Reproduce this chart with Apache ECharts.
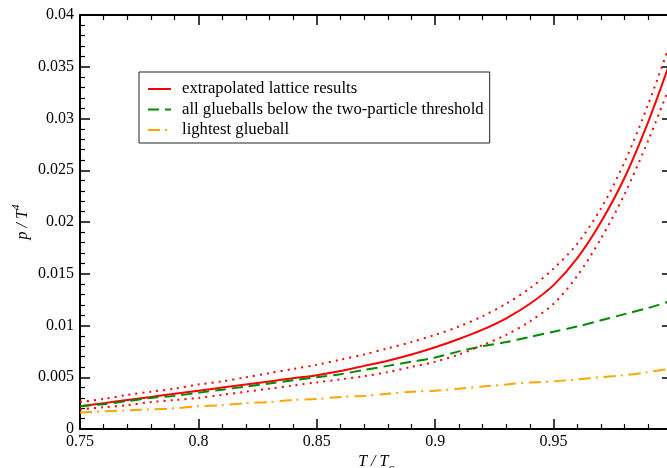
<!DOCTYPE html>
<html>
<head>
<meta charset="utf-8">
<script src="https://cdn.jsdelivr.net/npm/echarts@6/dist/echarts.min.js"></script>
<style>html,body{margin:0;padding:0;background:#fff}#c{width:667px;height:468px}</style>
</head>
<body>
<div id="c"></div>
<script>
var tValues = [0.75,0.76,0.77,0.78,0.79,0.80,0.81,0.82,0.83,0.84,0.85,0.86,0.87,0.88,0.89,0.90,0.91,0.92,0.93,0.94,0.95,0.96,0.97,0.98,0.99,0.9985];
var latticeCentral = [0.0022,0.0025,0.0028,0.0031,0.0034,0.0037,0.0040,0.0043,0.0046,0.0049,0.0052,0.0056,0.0061,0.0066,0.0072,0.0079,0.0087,0.0096,0.0107,0.0121,0.0139,0.0165,0.0200,0.0243,0.0297,0.0350];
var latticeUpper = [0.0026,0.0029,0.0033,0.0036,0.0039,0.0043,0.0046,0.0050,0.0054,0.0058,0.0062,0.0067,0.0072,0.0078,0.0084,0.0091,0.0099,0.0109,0.0121,0.0136,0.0155,0.0179,0.0213,0.0258,0.0314,0.0368];
var latticeLower = [0.0019,0.0021,0.0023,0.0026,0.0028,0.0030,0.0033,0.0036,0.0039,0.0042,0.0045,0.0048,0.0051,0.0055,0.0060,0.0065,0.0072,0.0081,0.0091,0.0104,0.0121,0.0148,0.0184,0.0227,0.0279,0.0328];
var allGlueballs = [0.0022,0.0024,0.0027,0.0030,0.0032,0.0035,0.0038,0.0041,0.0044,0.0047,0.0050,0.0053,0.0057,0.0061,0.0065,0.0069,0.0075,0.0080,0.0084,0.0089,0.0094,0.0099,0.0105,0.0111,0.0117,0.0123];
var lightestGlueball = [0.0016,0.0017,0.0018,0.0019,0.0020,0.0022,0.0023,0.0025,0.0026,0.0028,0.0029,0.0031,0.0032,0.0034,0.0036,0.0037,0.0039,0.0041,0.0043,0.0045,0.0046,0.0048,0.0050,0.0052,0.0055,0.0058];
var legendNames = ['extrapolated lattice results','all glueballs below the two-particle threshold','lightest glueball'];

function pairs(ys){ return tValues.map(function(t,i){ return [t, ys[i]]; }); }

var FONT = 'Liberation Serif';
var axisLineStyle = {color:'#000', width:2};
function xAx(pos, showLabel){
  return {
    type:'value', position:pos, min:0.75, max:1.0, interval:0.05,
    axisLine:{show:true, onZero:false, lineStyle:axisLineStyle},
    axisTick:{show:true, inside:true, length:10, lineStyle:{color:'#000', width:1.5}},
    minorTick:{show:true, splitNumber:5, length:5, lineStyle:{color:'#000', width:1.2}},
    splitLine:{show:false}, minorSplitLine:{show:false},
    axisLabel:{show:showLabel, color:'#000', fontFamily:FONT, fontSize:16, margin:5,
      formatter:function(v){ return Math.abs(v-1.0)<1e-9 ? '' : String(+v.toFixed(4)); }},
    axisPointer:{show:false}
  };
}
function yAx(pos, showLabel){
  return {
    type:'value', position:pos, min:0, max:0.04, interval:0.005,
    axisLine:{show:true, onZero:false, lineStyle:axisLineStyle},
    axisTick:{show:true, inside:true, length:10, lineStyle:{color:'#000', width:1.5}},
    minorTick:{show:true, splitNumber:5, length:5, lineStyle:{color:'#000', width:1.2}},
    splitLine:{show:false}, minorSplitLine:{show:false},
    axisLabel:{show:showLabel, color:'#000', fontFamily:FONT, fontSize:16, margin:6,
      formatter:function(v){ return String(+v.toFixed(4)); }}
  };
}

var xBottom = xAx('bottom', true);
xBottom.name = '{i|T / T}{s|c}';
xBottom.nameLocation = 'middle';
xBottom.nameGap = 20;
xBottom.nameMoveOverlap = false;
xBottom.nameTextStyle = {rich:{
  i:{fontFamily:FONT, fontStyle:'italic', fontSize:16, color:'#000'},
  s:{fontFamily:FONT, fontStyle:'italic', fontSize:12, color:'#000', padding:[14,0,0,0]}
}};
var xTop = xAx('top', false);

var yLeft = yAx('left', true);
yLeft.name = '{i|p / T}{s|4}';
yLeft.nameLocation = 'middle';
yLeft.nameGap = 46;
yLeft.nameMoveOverlap = false;
yLeft.nameTextStyle = {rich:{
  i:{fontFamily:FONT, fontStyle:'italic', fontSize:16, color:'#000'},
  s:{fontFamily:FONT, fontStyle:'italic', fontSize:11, color:'#000', padding:[0,0,12,0]}
}};
var yRight = yAx('right', false);

function lineSeries(name, ys, color, type, width){
  return {
    name:name, type:'line', data:pairs(ys), xAxisIndex:0, yAxisIndex:0,
    showSymbol:false, symbol:'none', smooth:0.3, clip:true, silent:true,
    lineStyle:{color:color, width:width, type:type}, itemStyle:{color:color},
    emphasis:{disabled:true}
  };
}

var option = {
  animation:false,
  backgroundColor:'#fff',
  grid:{left:80, top:15, width:592, height:414, containLabel:false, outerBoundsMode:'none'},
  xAxis:[xBottom, xTop],
  yAxis:[yLeft, yRight],
  legend:{
    data:legendNames,
    orient:'vertical', left:139, top:72,
    padding:[7,6,3,8], itemGap:0.5, itemWidth:23, itemHeight:14,
    itemStyle:{opacity:0, color:'transparent', borderWidth:0},
    backgroundColor:'#fff', borderColor:'#222', borderWidth:1,
    textStyle:{fontFamily:FONT, fontSize:16.7, color:'#000', lineHeight:20, padding:[0,0,0,6]},
    selectedMode:false
  },
  series:[
    lineSeries(legendNames[0], latticeCentral, '#ff0000', 'solid', 2),
    lineSeries(legendNames[1], allGlueballs, '#008b00', [11,6], 2),
    lineSeries(legendNames[2], lightestGlueball, '#ffa500', [12,5,2,6], 2),
    lineSeries('upper', latticeUpper, '#ff0000', [2,5], 2),
    lineSeries('lower', latticeLower, '#ff0000', [2,5], 2)
  ]
};
var chart = echarts.init(document.getElementById('c'), null, {renderer:'canvas'});
chart.setOption(option);
</script>
</body>
</html>
